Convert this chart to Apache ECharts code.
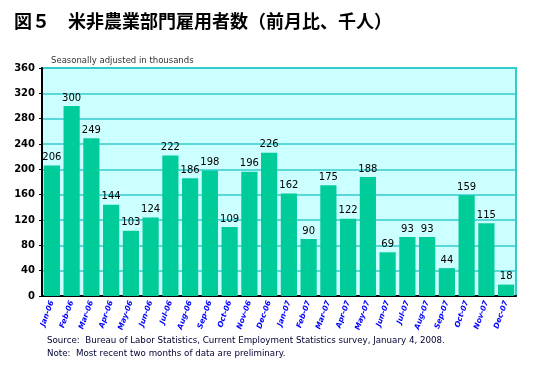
<!DOCTYPE html>
<html><head><meta charset="utf-8">
<script src="https://cdn.jsdelivr.net/npm/echarts@6/dist/echarts.min.js"></script>
<style>html,body{margin:0;padding:0;background:#fff}#c{width:545px;height:368px}</style>
</head><body><div id="c"></div>
<script>
const categories = ["Jan-06","Feb-06","Mar-06","Apr-06","May-06","Jun-06","Jul-06","Aug-06","Sep-06","Oct-06","Nov-06","Dec-06","Jan-07","Feb-07","Mar-07","Apr-07","May-07","Jun-07","Jul-07","Aug-07","Sep-07","Oct-07","Nov-07","Dec-07"];
const jobs = [206,300,249,144,103,124,222,186,198,109,196,226,162,90,175,122,188,69,93,93,44,159,115,18];
const yTicks = [0,40,80,120,160,200,240,280,320,360];
const titleText = "図５　米非農業部門雇用者数（前月比、千人）";
const subText = "Seasonally adjusted in thousands";
const sourceText = "Source:  Bureau of Labor Statistics, Current Employment Statistics survey, January 4, 2008.";
const noteText = "Note:  Most recent two months of data are preliminary.";

const chart = echarts.init(document.getElementById('c'), null, {renderer:'canvas'});
chart.setOption({
  animation:false,
  backgroundColor:'#fff',
  title:[
    {text:titleText,left:9,top:7,textStyle:{fontFamily:'Noto Sans CJK JP',fontWeight:'bold',fontSize:18,color:'#000'}},
    {text:subText,left:46,top:51,textStyle:{fontFamily:'DejaVu Sans',fontWeight:'normal',fontSize:8.5,color:'#333'}}
  ],
  graphic:[
    {type:'text',left:47,top:336,style:{text:sourceText,font:'8.7px "DejaVu Sans"',fill:'#000033'}},
    {type:'text',left:47,top:349,style:{text:noteText,font:'8.7px "DejaVu Sans"',fill:'#000033'}}
  ],
  grid:{left:42,top:68,width:474,height:228,show:true,backgroundColor:'#ccffff',borderColor:'#33cccc',borderWidth:2},
  xAxis:{type:'category',data:categories,
    axisLine:{lineStyle:{color:'#000',width:2}},axisTick:{show:false},
    axisLabel:{interval:0,rotate:70,fontSize:7.5,fontWeight:'bold',fontStyle:'italic',color:'#0000ff',fontFamily:'DejaVu Sans',margin:5}
  },
  yAxis:{type:'value',min:yTicks[0],max:yTicks[yTicks.length-1],interval:40,
    axisLine:{show:true,lineStyle:{color:'#000',width:2}},
    axisTick:{show:true,length:3,lineStyle:{color:'#000'}},
    axisLabel:{fontSize:10,fontWeight:'bold',color:'#000',fontFamily:'DejaVu Sans',margin:7},
    splitLine:{lineStyle:{color:'#33cccc',width:1.5}}
  },
  series:[{type:'bar',data:jobs,barCategoryGap:'18%',
    itemStyle:{color:'#00cc99'},
    label:{show:true,position:'top',distance:3,fontSize:10,color:'#000',fontFamily:'DejaVu Sans'}
  }]
});
</script></body></html>
